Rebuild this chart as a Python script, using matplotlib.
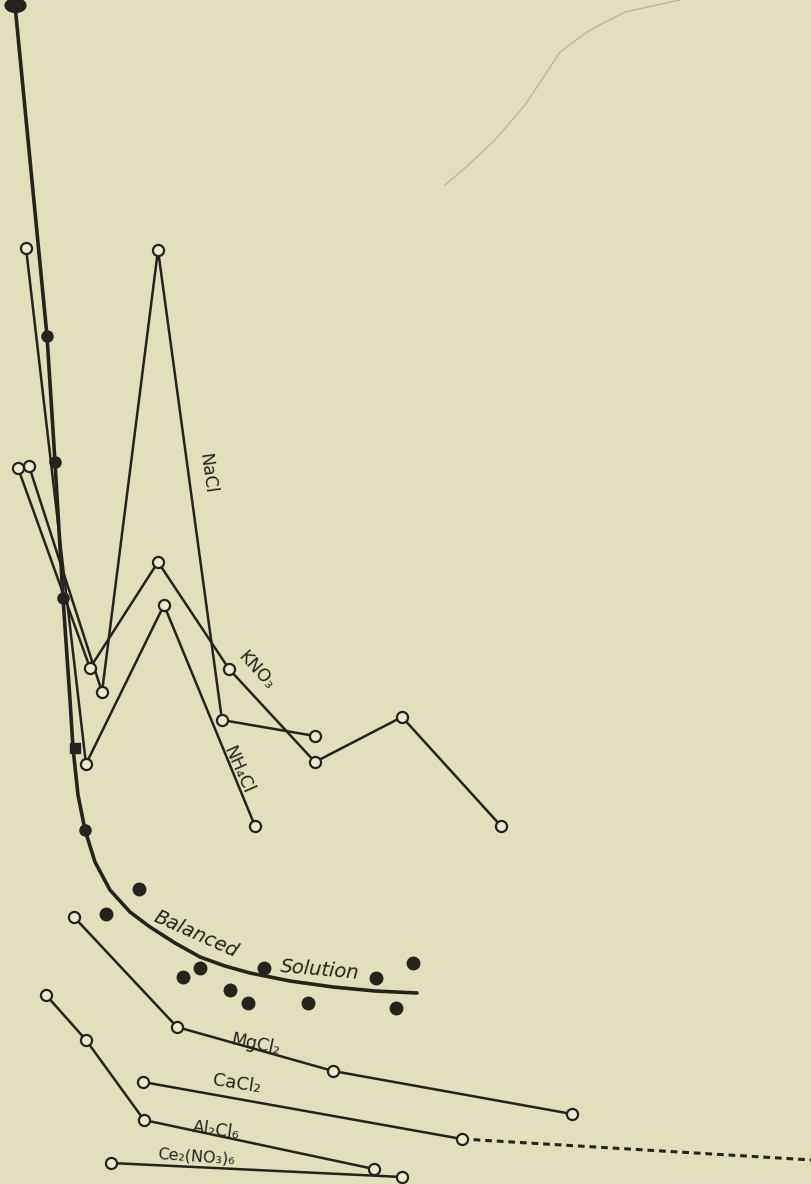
import matplotlib
matplotlib.use("Agg")
import matplotlib.pyplot as plt
from matplotlib.path import Path
import numpy as np

# ---- data (in chart units: x to the right, y downward) ----
bal_curve_x = [15, 47, 55, 63, 70, 73, 78, 85, 95, 110, 130, 150, 175, 200, 225, 250, 290, 333, 375, 417]
bal_curve_y = [5, 336, 462, 598, 700, 748, 795, 830, 862, 890, 912, 927, 943, 957, 966, 973, 981, 987, 991, 993]
bal_mark_x = [47, 55, 63, 85]
bal_mark_y = [336, 462, 598, 830]
bal_top_x = [15]
bal_top_y = [5]
bal_sq_x = [75]
bal_sq_y = [748]
bal_pts_x = [139, 106, 183, 200, 230, 248, 264, 308, 376, 396, 413]
bal_pts_y = [889, 914, 977, 968, 990, 1003, 968, 1003, 978, 1008, 963]

nacl_x = [29, 102, 158, 222, 315]
nacl_y = [466, 692, 250, 720, 736]
kno3_x = [18, 90, 158, 229, 315, 402, 501]
kno3_y = [468, 668, 562, 669, 762, 717, 826]
nh4cl_x = [26, 86, 164, 255]
nh4cl_y = [248, 764, 605, 826]

mgcl2_x = [74, 177, 333, 572]
mgcl2_y = [917, 1027, 1071, 1114]
cacl2_x = [143, 462]
cacl2_y = [1082, 1139]
cacl2_ext_x = [462, 812]
cacl2_ext_y = [1139, 1160]
al2cl6_x = [46, 86, 144, 374]
al2cl6_y = [995, 1040, 1120, 1169]
ce_x = [111, 402]
ce_y = [1163, 1177]

labels = ["NaCl", "KNO₃", "NH₄Cl", "MgCl₂", "CaCl₂", "Al₂Cl₆", "Ce₂(NO₃)₆", "Balanced", "Solution"]
label_x = [207, 256, 238, 256, 237, 216, 196, 196, 320]
label_y = [473, 670, 770, 1044, 1084, 1130, 1157, 934, 970]
label_rot = [-82, -48, -66, -12, -9, -8, -4, -24, -5]
label_size = [12.5, 12.5, 12.5, 12.5, 13, 12.5, 11.5, 14, 14]

crease_x = [445, 465, 495, 525, 545, 560, 590, 625, 680]
crease_y = [185, 168, 140, 105, 75, 52, 30, 12, 0]

# ---- style ----
BG = "#e2dfbd"
INK = "#24241d"

fig = plt.figure(figsize=(8.12, 11.84), dpi=100, facecolor=BG)
ax = fig.add_axes([0, 0, 1, 1])
ax.set_facecolor(BG)
ax.set_xlim(0, 812)
ax.set_ylim(1184, 0)
ax.axis("off")

# faint paper crease
ax.plot(crease_x, crease_y, color="#a3a084", lw=1.0, alpha=0.6, zorder=1)

# horizontal ellipse marker for the top point
t = np.linspace(0, 2 * np.pi, 40)
ellipse = Path(np.column_stack([1.5 * np.cos(t), np.sin(t)]), closed=True)

# balanced solution
ax.plot(bal_curve_x, bal_curve_y, color=INK, lw=2.6, zorder=3, solid_capstyle="round")
ax.plot(bal_mark_x, bal_mark_y, 'o', color=INK, ms=8, zorder=4)
ax.plot(bal_top_x, bal_top_y, marker=ellipse, color=INK, ms=15, ls="none", zorder=4)
ax.plot(bal_sq_x, bal_sq_y, 's', color=INK, ms=7, zorder=4)
ax.plot(bal_pts_x, bal_pts_y, 'o', color=INK, ms=9, zorder=4)

open_kw = dict(color=INK, lw=1.8, marker='o', ms=8, mfc="#ecead0", mec=INK, mew=1.6, zorder=5)
for xs, ys in [(nacl_x, nacl_y), (kno3_x, kno3_y), (nh4cl_x, nh4cl_y),
               (mgcl2_x, mgcl2_y), (cacl2_x, cacl2_y), (al2cl6_x, al2cl6_y), (ce_x, ce_y)]:
    ax.plot(xs, ys, **open_kw)

ax.plot(cacl2_ext_x, cacl2_ext_y, color=INK, lw=2.2, ls=(0, (2.2, 1.6)), zorder=2)

for i, (txt, x, y, r) in enumerate(zip(labels, label_x, label_y, label_rot)):
    style = "italic" if txt in ("Balanced", "Solution") else "normal"
    ax.text(x, y, txt, rotation=r, ha="center", va="center", fontsize=label_size[i],
            color=INK, family="DejaVu Sans", style=style, rotation_mode="anchor", zorder=6)

fig.savefig("out.png", dpi=100, facecolor=BG)
